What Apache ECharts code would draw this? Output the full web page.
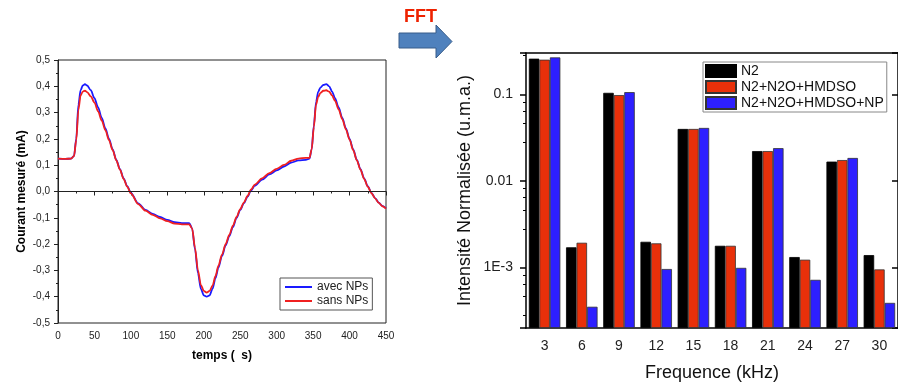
<!DOCTYPE html>
<html><head><meta charset="utf-8">
<script src="https://cdn.jsdelivr.net/npm/echarts@6/dist/echarts.min.js"></script>
<style>html,body{margin:0;padding:0;background:#fff}#c{width:898px;height:387px}</style>
</head><body><div id="c"></div>
<script>
// ---- Left chart: current vs time ----
const time = [0,10,18,22,25,28,31,34,37,40,45,50,55,60,65,70,75,80,85,90,95,100,110,120,130,140,150,160,170,180,184,188,192,196,200,204,208,212,216,220,225,230,235,240,245,250,255,260,265,270,280,290,300,310,320,330,340,345,348,351,354,357,360,364,368,372,376,380,385,390,395,400,405,410,415,420,425,430,435,440,445,450];
const avecNPs = [0.125,0.124,0.125,0.135,0.2,0.33,0.385,0.403,0.408,0.403,0.385,0.355,0.32,0.28,0.24,0.2,0.16,0.12,0.085,0.05,0.02,-0.005,-0.045,-0.07,-0.085,-0.097,-0.108,-0.117,-0.12,-0.12,-0.14,-0.22,-0.31,-0.37,-0.395,-0.4,-0.395,-0.37,-0.33,-0.29,-0.245,-0.205,-0.17,-0.135,-0.1,-0.07,-0.045,-0.02,0.005,0.022,0.045,0.065,0.08,0.095,0.11,0.118,0.12,0.125,0.16,0.25,0.34,0.38,0.395,0.405,0.408,0.4,0.38,0.355,0.32,0.28,0.24,0.2,0.16,0.12,0.085,0.05,0.02,-0.005,-0.025,-0.042,-0.055,-0.064];
const sansNPs = [0.125,0.124,0.125,0.135,0.195,0.31,0.365,0.38,0.383,0.378,0.362,0.338,0.305,0.27,0.233,0.195,0.157,0.118,0.083,0.048,0.018,-0.007,-0.048,-0.073,-0.089,-0.102,-0.113,-0.122,-0.125,-0.125,-0.14,-0.215,-0.3,-0.355,-0.378,-0.384,-0.378,-0.358,-0.322,-0.283,-0.24,-0.2,-0.165,-0.13,-0.097,-0.067,-0.042,-0.017,0.008,0.026,0.05,0.07,0.086,0.101,0.117,0.125,0.128,0.128,0.16,0.245,0.33,0.36,0.375,0.383,0.385,0.38,0.365,0.345,0.312,0.275,0.236,0.197,0.157,0.118,0.083,0.048,0.018,-0.006,-0.026,-0.043,-0.056,-0.065];

// ---- Right chart: FFT bars ----
const freq = ['3','6','9','12','15','18','21','24','27','30'];
const n2 = [0.258,0.00171,0.104,0.00198,0.0398,0.00178,0.0221,0.00132,0.0167,0.00139];
const n2n2oHmdso = [0.251,0.00193,0.098,0.0019,0.0398,0.00178,0.0221,0.00123,0.0174,0.00095];
const n2n2oHmdsoNp = [0.267,0.000352,0.106,0.00096,0.0409,0.00099,0.0239,0.00072,0.0184,0.00039];
const yTickValues = [0.001,0.01,0.1];
const yTickLabels = ['1E-3','0.01','0.1'];

const FONT = 'Liberation Sans, Arial, sans-serif';
const zip = (a,b) => a.map((v,i)=>[v,b[i]]);
const logLabel = v => { const i = yTickValues.findIndex(t => Math.abs(Math.log10(t)-Math.log10(v))<1e-6); return i<0?'':yTickLabels[i]; };

const chart = echarts.init(document.getElementById('c'), null, {renderer:'canvas'});
const catCommon = {type:'category', gridIndex:1, data:freq, boundaryGap:true};
const logCommon = {type:'log', gridIndex:1, min:0.0002, max:0.3, logBase:10, startValue:0.0002, splitLine:{show:false}};

chart.setOption({
  animation:false,
  textStyle:{fontFamily:FONT},
  grid:[
    {left:58, top:60, width:328, height:263, show:true, borderColor:'#222', borderWidth:1, backgroundColor:'transparent'},
    {left:526, top:53, width:374, height:277}
  ],
  xAxis:[
    {type:'value', gridIndex:0, min:0, max:450, interval:50,
     name:'temps (  s)', nameLocation:'middle', nameGap:27,
     nameTextStyle:{fontSize:12, fontWeight:'bold', color:'#000', fontFamily:FONT},
     axisLine:{lineStyle:{color:'#222', width:1}},
     axisTick:{length:4, lineStyle:{color:'#222'}},
     minorTick:{show:true, splitNumber:2, length:2, lineStyle:{color:'#222'}},
     axisLabel:{fontSize:10, color:'#222', margin:8, fontFamily:FONT},
     splitLine:{show:false}},
    Object.assign({}, catCommon, {position:'bottom',
     name:'Frequence (kHz)', nameLocation:'middle', nameGap:36,
     nameTextStyle:{fontSize:18, color:'#111', fontFamily:FONT},
     axisLine:{lineStyle:{color:'#000', width:1.5}},
     axisTick:{length:3, alignWithLabel:false, lineStyle:{color:'#000', width:1.5}},
     axisLabel:{fontSize:14, color:'#222', margin:11, fontFamily:FONT}}),
    Object.assign({}, catCommon, {position:'bottom',
     axisLine:{show:false}, axisLabel:{show:false},
     axisTick:{length:5, alignWithLabel:true, lineStyle:{color:'#000', width:1.5}}}),
    Object.assign({}, catCommon, {position:'top',
     axisLine:{lineStyle:{color:'#000', width:1.5}}, axisLabel:{show:false},
     axisTick:{inside:true, length:3, lineStyle:{color:'#000', width:1.5}}}),
    Object.assign({}, catCommon, {position:'top',
     axisLine:{show:false}, axisLabel:{show:false},
     axisTick:{inside:true, length:6, alignWithLabel:true, lineStyle:{color:'#000', width:1.5}}})
  ],
  yAxis:[
    {type:'value', gridIndex:0, min:-0.5, max:0.5, interval:0.1,
     name:'Courant mesuré (mA)', nameLocation:'middle', nameGap:30,
     nameTextStyle:{fontSize:12, fontWeight:'bold', color:'#000', fontFamily:FONT},
     axisLine:{show:true, lineStyle:{color:'#222', width:1}},
     axisTick:{show:true, length:4, lineStyle:{color:'#222'}},
     minorTick:{show:true, splitNumber:2, length:2, lineStyle:{color:'#222'}},
     axisLabel:{fontSize:10, color:'#222', margin:8, fontFamily:FONT,
       formatter: v => v.toFixed(1).replace('.', ',')},
     splitLine:{show:false}},
    Object.assign({}, logCommon, {position:'left',
     name:'Intensité Normalisée (u.m.a.)', nameLocation:'middle', nameGap:52,
     nameTextStyle:{fontSize:18, color:'#111', fontFamily:FONT},
     axisLine:{show:true, lineStyle:{color:'#000', width:1.5}},
     axisTick:{show:true, length:6, lineStyle:{color:'#000', width:1.5}},
     minorTick:{show:true, splitNumber:5, length:3, lineStyle:{color:'#000'}},
     axisLabel:{fontSize:14, color:'#222', margin:13, fontFamily:FONT, showMinLabel:false, showMaxLabel:false, formatter:logLabel}}),
    Object.assign({}, logCommon, {position:'right',
     axisLine:{show:true, lineStyle:{color:'#000', width:1.5}},
     axisTick:{show:true, inside:true, length:6, lineStyle:{color:'#000', width:1.5}},
     axisLabel:{show:false}})
  ],
  legend:[
    {left:280, top:278, orient:'vertical', itemGap:2, padding:[3,4,3,5],
     borderColor:'#555', borderWidth:1, itemWidth:27, itemHeight:2, icon:'rect',
     textStyle:{fontSize:12, color:'#222', fontFamily:FONT},
     data:['avec NPs','sans NPs']},
    {left:703, top:62, orient:'vertical', itemGap:2, padding:[2,3,2,2],
     borderColor:'#888', borderWidth:1, itemWidth:30, itemHeight:12, icon:'rect',
     textStyle:{fontSize:14, color:'#111', fontFamily:FONT},
     data:['N2','N2+N2O+HMDSO','N2+N2O+HMDSO+NP']}
  ],
  series:[
    {name:'avec NPs', type:'line', xAxisIndex:0, yAxisIndex:0, data:zip(time, avecNPs),
     showSymbol:false, smooth:0.3, smoothMonotone:'x', lineStyle:{color:'#1a1aff', width:1.8}, itemStyle:{color:'#1a1aff'},
     markLine:{silent:true, symbol:'none', label:{show:false}, lineStyle:{color:'#222', width:1, type:'solid'}, data:[{yAxis:0}]}},
    {name:'sans NPs', type:'line', xAxisIndex:0, yAxisIndex:0, data:zip(time, sansNPs),
     showSymbol:false, smooth:0.3, smoothMonotone:'x', lineStyle:{color:'#f02020', width:1.8}, itemStyle:{color:'#f02020'}},
    {name:'N2', type:'bar', xAxisIndex:1, yAxisIndex:1, data:n2, barWidth:10.5, barGap:'0%',
     itemStyle:{color:'#000', borderColor:'#000', borderWidth:0.8}},
    {name:'N2+N2O+HMDSO', type:'bar', xAxisIndex:1, yAxisIndex:1, data:n2n2oHmdso, barWidth:10.5, barGap:'0%',
     itemStyle:{color:'#e8300a', borderColor:'#333', borderWidth:0.8}},
    {name:'N2+N2O+HMDSO+NP', type:'bar', xAxisIndex:1, yAxisIndex:1, data:n2n2oHmdsoNp, barWidth:10.5, barGap:'0%',
     itemStyle:{color:'#2d1fff', borderColor:'#333', borderWidth:0.8}}
  ],
  graphic:[
    {type:'text', left:404, top:8, style:{text:'FFT', fontSize:18, fontWeight:'bold', fill:'#ee2200', fontFamily:FONT}},
    {type:'polygon', shape:{points:[[399,33],[436,33],[436,25],[452,41.5],[436,58],[436,48],[399,48]]},
     style:{fill:'#4f81bd', stroke:'#385d8a', lineWidth:1}}
  ]
});
</script></body></html>
